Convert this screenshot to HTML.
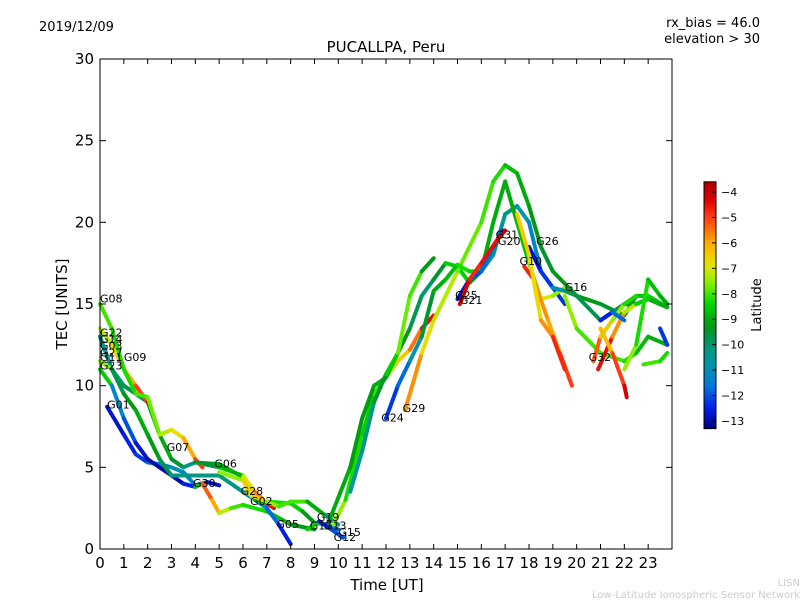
<!DOCTYPE html>
<html><head><meta charset="utf-8"><style>
body{margin:0;background:#fff;}
svg{display:block;font-family:"DejaVu Sans","Liberation Sans",sans-serif;}
</style></head><body>
<svg id="c" width="800" height="600">
<text x="39" y="31" font-size="13">2019/12/09</text>
<text x="760" y="27" font-size="13" text-anchor="end">rx_bias = 46.0</text>
<text x="760" y="43" font-size="13" text-anchor="end">elevation &gt; 30</text>
<text x="386" y="52" font-size="15" text-anchor="middle">PUCALLPA, Peru</text>
<text x="387" y="590" font-size="15" text-anchor="middle">Time [UT]</text>
<text x="67" y="304" font-size="15" text-anchor="middle" transform="rotate(-90 67 304)">TEC [UNITS]</text>
<text x="761" y="305" font-size="13" text-anchor="middle" transform="rotate(-90 761 305)">Latitude</text>
<text x="800" y="586" font-size="10" fill="#ccc" text-anchor="end">LISN</text>
<text x="800" y="598" font-size="10" fill="#ccc" text-anchor="end">Low-Latitude Ionospheric Sensor Network</text>
<g id="tracks"></g>
<g id="labels"></g>
<rect x="100" y="59" width="572" height="490" fill="none" stroke="#000"/>
<g id="axes"></g>
<g id="cbar"></g>
</svg>
<script>
const xTicks=[0,1,2,3,4,5,6,7,8,9,10,11,12,13,14,15,16,17,18,19,20,21,22,23];
const yTicks=[0,5,10,15,20,25,30];
const cbTicks=[-4,-5,-6,-7,-8,-9,-10,-11,-12,-13];
const trackTimes=[
[0,0.5,1,2,2.5,3,3.5,4,5,6,6.5,7,7.3],
[0,0.5,1,1.5,2,2.1],
[0,0.5,1,1.5,2,2.5,3,3.5,4,4.3],
[0.3,1,1.5,2,2.5,3,3.5,4,4.5,5],
[0,0.5,1,1.5,2,3,3.5,4,4.3,4.7,5,5.5,6,7,8,9],
[0,0.5,1,1.5,2,2.5,3,4,5,6,7,7.5,8],
[4,5,6,6.2,6.5,7,8,8.5,9,9.5,10],
[5,6,6.5,7,7.5,8,8.7,9.5,10],
[9.8,10.3,11,11.5,12,12.5,13,13.5,14],
[9.5,10.5,11,11.5,12,12.5,13,13.5,14,14.5,15,15.5,16,16.5,17,17.5,18,18.5,19,19.5],
[12.8,13.5,14,15,16,16.5,17,17.5,18,18.5,19,20,21,22,22.5,23,23.8],
[12,12.5,13,13.5,14,14.5,15,15.5,16,16.5,17,17.5,18,18.5,19,19.5],
[10.5,11,11.5,12,12.5,13,13.5,14],
[15,15.5,16,16.5,16.9],
[15.1,15.5,16,16.7,17],
[18,18.5,19,19.5,20,21,21.5,22,22.5,23,23.8],
[19.5,20,21,22,22.5,23,23.8],
[17.8,18.2,18.8,19.3,19.8],
[17.5,18,18.5,19,19.5],
[20.7,21,21.5,22,22.5],
[20.9,21.5,22,22.5,23],
[21,21.5,22],
[21,21.5,22,22.1],
[22,22.5,23,23.5,23.8],
[22.8,23.5,23.8],
[23.5,23.8],
[8.7,9.2,9.7,10.2]
];
const trackValues=[
[13,11,10,9,7,5.5,5,5.3,5,4.5,3.5,2.8,2.5],
[13.5,12.5,11,10,9,8.8],
[15,13.5,11,9.5,9.3,7,7.3,6.8,5.5,5],
[8.7,7,5.8,5.3,5.2,5,4.7,3.9,4.1,3.9],
[11,10,8,6.5,5.5,4.5,4,3.8,4,3,2.2,2.5,2.7,2.3,1.5,1.2],
[11.5,11,9.5,8.5,7,5.5,4.5,4.5,4.5,3.5,2.5,1.5,0.3],
[5.3,5.2,4.4,3.5,3,2.9,2.8,2.3,1.6,1.5,1.2],
[4.7,4.2,3.2,2.9,2.6,2.9,2.9,2,1.5],
[1.5,3,7,9.5,10.5,11.5,12.2,13.5,14.3],
[1.3,5,8,10,10.5,12,13.5,15.5,16.5,17.5,17.3,16.3,17,18,20.5,21,20,17,16,15],
[8.5,12,14,17,20,22.5,23.5,23,21,18.5,17,15.5,15,14.3,15.5,15.5,14.8],
[8,10,11.5,13,15.8,16.5,17.4,17,17,20,22.5,20,17.5,15.3,15.5,16],
[3.5,6,9,10.7,12,15.5,17,17.8],
[15.3,16.5,17,18.5,19.5],
[15,16.5,17.5,19,19.5],
[18.5,17,16,15.8,15.5,14,14.5,15,15,15.3,14.8],
[15.5,13.5,12,11.5,12,13,12.5],
[17.3,16.5,14,12,10],
[20.5,18,14,13,11],
[11.5,13,14,15,15.5],
[11,13,14.5,15,15.3],
[14,14.5,14],
[13.5,12,10,9.3],
[11,12.5,16.5,15.5,15],
[11.3,11.5,12],
[13.5,12.5],
[1.2,1.7,1.2,0.7]
];
const trackLats=[
[-11,-10,-10,-9.5,-9,-9,-10,-10.5,-9,-8,-6,-5,-4],
[-7.5,-7,-6.5,-5.5,-4.5,-4],
[-8,-8,-8.5,-8,-8,-7.5,-7,-6.5,-5.5,-4.5],
[-13,-12.5,-12.5,-12,-11.5,-11,-11,-11.5,-12.5,-13],
[-6,-11,-11.5,-12.5,-13,-13,-13,-12,-5,-5.5,-6.5,-8,-8,-8.5,-9,-9.5],
[-5,-10,-9.5,-9,-9,-9.5,-10,-10.5,-10,-10.5,-11.5,-12,-13],
[-10,-9,-9,-5,-9,-8.5,-8,-9,-9.5,-11,-12],
[-8,-7,-6,-7,-8,-8,-8,-10,-11],
[-7,-8,-8.5,-8.5,-7.5,-7,-6,-5,-4],
[-9,-9,-9.5,-9,-9,-9,-9.5,-10,-10,-9,-8,-9,-10,-11,-10,-10.5,-11,-11.5,-12,-12.5],
[-5,-6.5,-7,-7.5,-8,-8,-8.5,-9,-9,-9.5,-9.5,-9,-9.5,-9.5,-9,-8.5,-8.5],
[-12.5,-12,-11.5,-10,-9,-9,-8.5,-8,-9,-9,-9,-9,-8.5,-7,-7,-8],
[-11,-10.5,-10,-9,-8,-7.5,-8.5,-10],
[-13,-12.5,-11.5,-12,-13],
[-4,-4.5,-5,-4,-4],
[-13,-12.5,-12,-10,-9.5,-10,-10,-9.5,-9,-9,-9],
[-7,-8,-8,-8,-8.5,-9,-9],
[-4,-5.5,-6,-6,-4],
[-6,-7,-6.5,-5,-4.5],
[-4.5,-6,-7,-8,-8.5],
[-4,-5,-6.5,-8,-9],
[-13,-12,-11.5],
[-7,-5.5,-4.5,-4],
[-7,-8,-8.5,-9,-9],
[-8,-8,-8.5],
[-12.5,-12],
[-5,-12,-13,-11]
];
const labelNames=["G08","G22","G14","G03","G27","G11","G23","G09","G01","G07","G06","G30","G28","G02","G05","G19","G17","G13","G15","G12","G24","G29","G25","G21","G31","G20","G26","G10","G16","G32"];
const labelTimes=[0,0,0,0,0,0,0,1,0.3,2.8,4.8,3.9,5.9,6.3,7.4,9.1,8.8,9.4,10,9.8,11.8,12.7,14.9,15.1,16.6,16.7,18.3,17.6,19.5,20.5];
const labelValues=[15.1,13,12.6,12.2,11.8,11.5,11,11.5,8.6,6,5,3.8,3.3,2.7,1.3,1.7,1.2,1.2,0.8,0.5,7.8,8.4,15.3,15,19,18.6,18.6,17.4,15.8,11.5];

const X=t=>100+t*572/24;
const Y=v=>549-v*490/30;
const CB=l=>192+(-4-l)*(421-192)/9;
const NS="http://www.w3.org/2000/svg";
const cmapStops=[[-13.3,[0,0,130]],[-12.5,[0,30,230]],[-11.6,[0,120,220]],[-10.8,[0,150,170]],[-10.0,[0,150,110]],[-9.3,[0,150,20]],[-8.4,[0,215,0]],[-7.6,[130,240,0]],[-6.9,[230,230,0]],[-6.0,[255,170,0]],[-5.0,[255,60,20]],[-4.3,[220,0,0]],[-3.6,[170,0,0]]];
function jet(l){
  if(l<=cmapStops[0][0])return `rgb(${cmapStops[0][1]})`;
  for(let i=0;i<cmapStops.length-1;i++){
    const a=cmapStops[i],b=cmapStops[i+1];
    if(l<=b[0]){const f=(l-a[0])/(b[0]-a[0]);
      return `rgb(${a[1].map((v,k)=>Math.round(v+(b[1][k]-v)*f)).join(',')})`;}
  }
  return `rgb(${cmapStops[cmapStops.length-1][1]})`;
}
function mk(tag,attrs,parent){const e=document.createElementNS(NS,tag);for(const k in attrs)e.setAttribute(k,attrs[k]);parent.appendChild(e);return e;}
const tg=document.getElementById('tracks');
trackTimes.forEach((ts,i)=>{
  for(let j=0;j<ts.length-1;j++){
    const seg=mk('line',{x1:X(ts[j]),y1:Y(trackValues[i][j]),x2:X(ts[j+1]),y2:Y(trackValues[i][j+1]),stroke:jet((trackLats[i][j]+trackLats[i][j+1])/2),'stroke-width':4,'stroke-linecap':'round'},tg);
    
    
  }
});
const lg=document.getElementById('labels');
labelNames.forEach((n,i)=>{
  const t=mk('text',{x:X(labelTimes[i]),y:Y(labelValues[i]),'font-size':11},lg);
  t.textContent=n;
  
  
});
const ag=document.getElementById('axes');
xTicks.forEach(t=>{
  const x=X(t);
  mk('line',{x1:x,y1:549,x2:x,y2:544,stroke:'#000'},ag);
  mk('line',{x1:x,y1:59,x2:x,y2:64,stroke:'#000'},ag);
  const tx=mk('text',{x:x,y:568,'font-size':15,'text-anchor':'middle'},ag);
  tx.textContent=t;
  
  
});
yTicks.forEach(v=>{
  const y=Y(v);
  mk('line',{x1:100,y1:y,x2:106,y2:y,stroke:'#000'},ag);
  mk('line',{x1:672,y1:y,x2:666,y2:y,stroke:'#000'},ag);
  const tx=mk('text',{x:94,y:y+5,'font-size':15,'text-anchor':'end'},ag);
  tx.textContent=v;
  
  
});
const cg=document.getElementById('cbar');
const defs=mk('defs',{},cg);
const gr=mk('linearGradient',{id:'jg',x1:0,y1:1,x2:0,y2:0},defs);
for(let k=0;k<=40;k++){const l=-13.3+k*9.7/40;mk('stop',{offset:k/40,'stop-color':jet(l)},gr);}
const cr=mk('rect',{x:704,y:CB(-3.6),width:12,height:CB(-13.3)-CB(-3.6),fill:'url(#jg)',stroke:'#000'},cg);


cbTicks.forEach(l=>{
  const y=CB(l);
  mk('line',{x1:712,y1:y,x2:716,y2:y,stroke:'#000'},cg);
  const tx=mk('text',{x:721,y:y+4,'font-size':11},cg);
  tx.textContent='\u2212'+Math.abs(l);
  
  
});
</script>
</body></html>
